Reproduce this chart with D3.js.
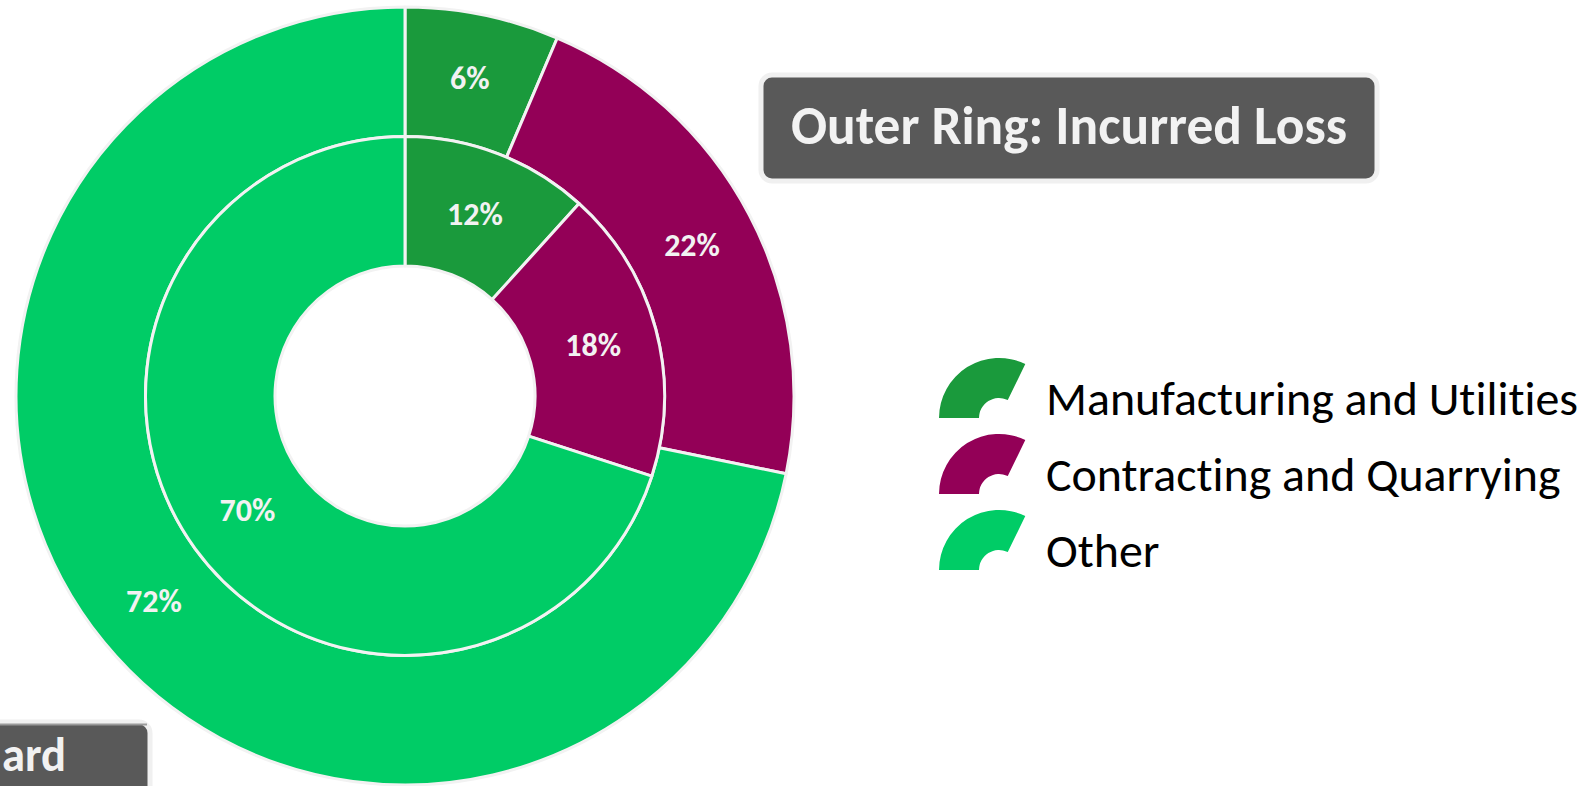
<!DOCTYPE html>
<html>
<head>
<meta charset="utf-8">
<script src="https://cdn.jsdelivr.net/npm/d3@7"></script>
<style>
  html, body { margin: 0; padding: 0; background: #ffffff; overflow: hidden; }
  svg { display: block; }
  text { font-variant-ligatures: none; font-feature-settings: "liga" 0, "clig" 0; }
</style>
</head>
<body>
<svg id="chart" width="1591" height="786"></svg>
<script>
// ---- data ----
const categories = ["Manufacturing and Utilities", "Contracting and Quarrying", "Other"];
const outerValues = [6.4, 21.8, 71.8];   // Outer ring: Incurred Loss
const innerValues = [11.7, 18.3, 70.0];  // Inner ring
const colors = ["#1a9a3c", "#930057", "#00cc66"];
const titleText = "Outer Ring: Incurred Loss";
const cornerText = "ard";

// ---- layout ----
const W = 1591, H = 786;
const cx = 405, cy = 396;
const rHole = 130, rMid = 259.5, rOuter = 389;
const FONT = "Carlito, Calibri, Lato, 'Open Sans', sans-serif";

const svg = d3.select("#chart");

const color = d3.scaleOrdinal().domain(categories).range(colors);
const pie = d3.pie().sort(null).value(d => d.value);

function ringData(values) {
  const total = d3.sum(values);
  return pie(categories.map((c, i) => ({ cat: c, value: values[i], share: values[i] / total })));
}

const g = svg.append("g").attr("transform", `translate(${cx},${cy})`);

function drawRing(values, r0, r1) {
  const arc = d3.arc().innerRadius(r0).outerRadius(r1);
  const data = ringData(values);
  const ring = g.append("g");
  ring.selectAll("path").data(data).join("path")
    .attr("d", arc)
    .attr("fill", d => color(d.data.cat))
    .attr("stroke", "#f2f2f2")
    .attr("stroke-width", 3)
    .attr("stroke-linejoin", "round");
  ring.selectAll("text").data(data).join("text")
    .attr("x", d => arc.centroid(d)[0])
    .attr("y", d => arc.centroid(d)[1])
    .attr("text-anchor", "middle")
    .attr("dominant-baseline", "central")
    .attr("font-family", FONT)
    .attr("font-weight", "bold")
    .attr("font-size", 32)
    .attr("fill", "#f2f2f2")
    .text(d => d3.format(".0%")(d.data.share));
}
drawRing(outerValues, rMid, rOuter);
drawRing(innerValues, rHole, rMid);

// fit helper: squeeze text horizontally if wider than target
function fit(sel, target) {
  const w = sel.node().getComputedTextLength();
  if (w > target) sel.attr("textLength", target).attr("lengthAdjust", "spacingAndGlyphs");
  return w;
}

// ---- title box ----
const tb = { x: 761, y: 75, w: 616, h: 106 };
svg.append("rect")
  .attr("x", tb.x).attr("y", tb.y).attr("width", tb.w).attr("height", tb.h)
  .attr("rx", 11).attr("ry", 11)
  .attr("fill", "#595959").attr("stroke", "#f0f0f0").attr("stroke-width", 5);
const title = svg.append("text")
  .attr("x", tb.x + tb.w / 2).attr("y", 144)
  .attr("text-anchor", "middle")
  .attr("font-family", FONT).attr("font-weight", "bold").attr("font-size", 54)
  .attr("fill", "#f2f2f2")
  .text(titleText);
fit(title, 556);

// ---- bottom-left box (partly off canvas) ----
svg.append("rect")
  .attr("x", -40).attr("y", 722).attr("width", 190).attr("height", 120)
  .attr("rx", 11).attr("ry", 11)
  .attr("fill", "#595959").attr("stroke", "#f0f0f0").attr("stroke-width", 5);
svg.append("line")
  .attr("x1", 0).attr("x2", 147).attr("y1", 724.5).attr("y2", 724.5)
  .attr("stroke", "#9a9a9a").attr("stroke-width", 2);
const corner = svg.append("text")
  .attr("x", 2).attr("y", 771)
  .attr("text-anchor", "start")
  .attr("font-family", FONT).attr("font-weight", "bold").attr("font-size", 48)
  .attr("fill", "#f2f2f2")
  .text(cornerText);
fit(corner, 64);

// ---- legend ----
const legend = svg.append("g");
const rowY = d3.scalePoint().domain(categories).range([418, 570]);
const iconArc = d3.arc().innerRadius(20).outerRadius(60)
  .startAngle(-Math.PI / 2).endAngle(26 * Math.PI / 180);
const items = legend.selectAll("g").data(categories).join("g")
  .attr("transform", d => `translate(0,${rowY(d)})`);
items.append("path")
  .attr("transform", "translate(999,0)")
  .attr("d", iconArc())
  .attr("fill", d => color(d));
const texts = items.append("text")
  .attr("x", 1046).attr("y", -3)
  .attr("font-family", FONT).attr("font-size", 48)
  .attr("fill", "#000000")
  .text(d => d);
// squeeze ratio derived from the first entry's target width
const w0 = texts.filter((d, i) => i === 0).node().getComputedTextLength();
const ratio = Math.min(1, 532 / w0);
texts.each(function () {
  const t = d3.select(this);
  const w = this.getComputedTextLength();
  if (ratio < 1) t.attr("textLength", w * ratio).attr("lengthAdjust", "spacingAndGlyphs");
});
</script>
</body>
</html>
